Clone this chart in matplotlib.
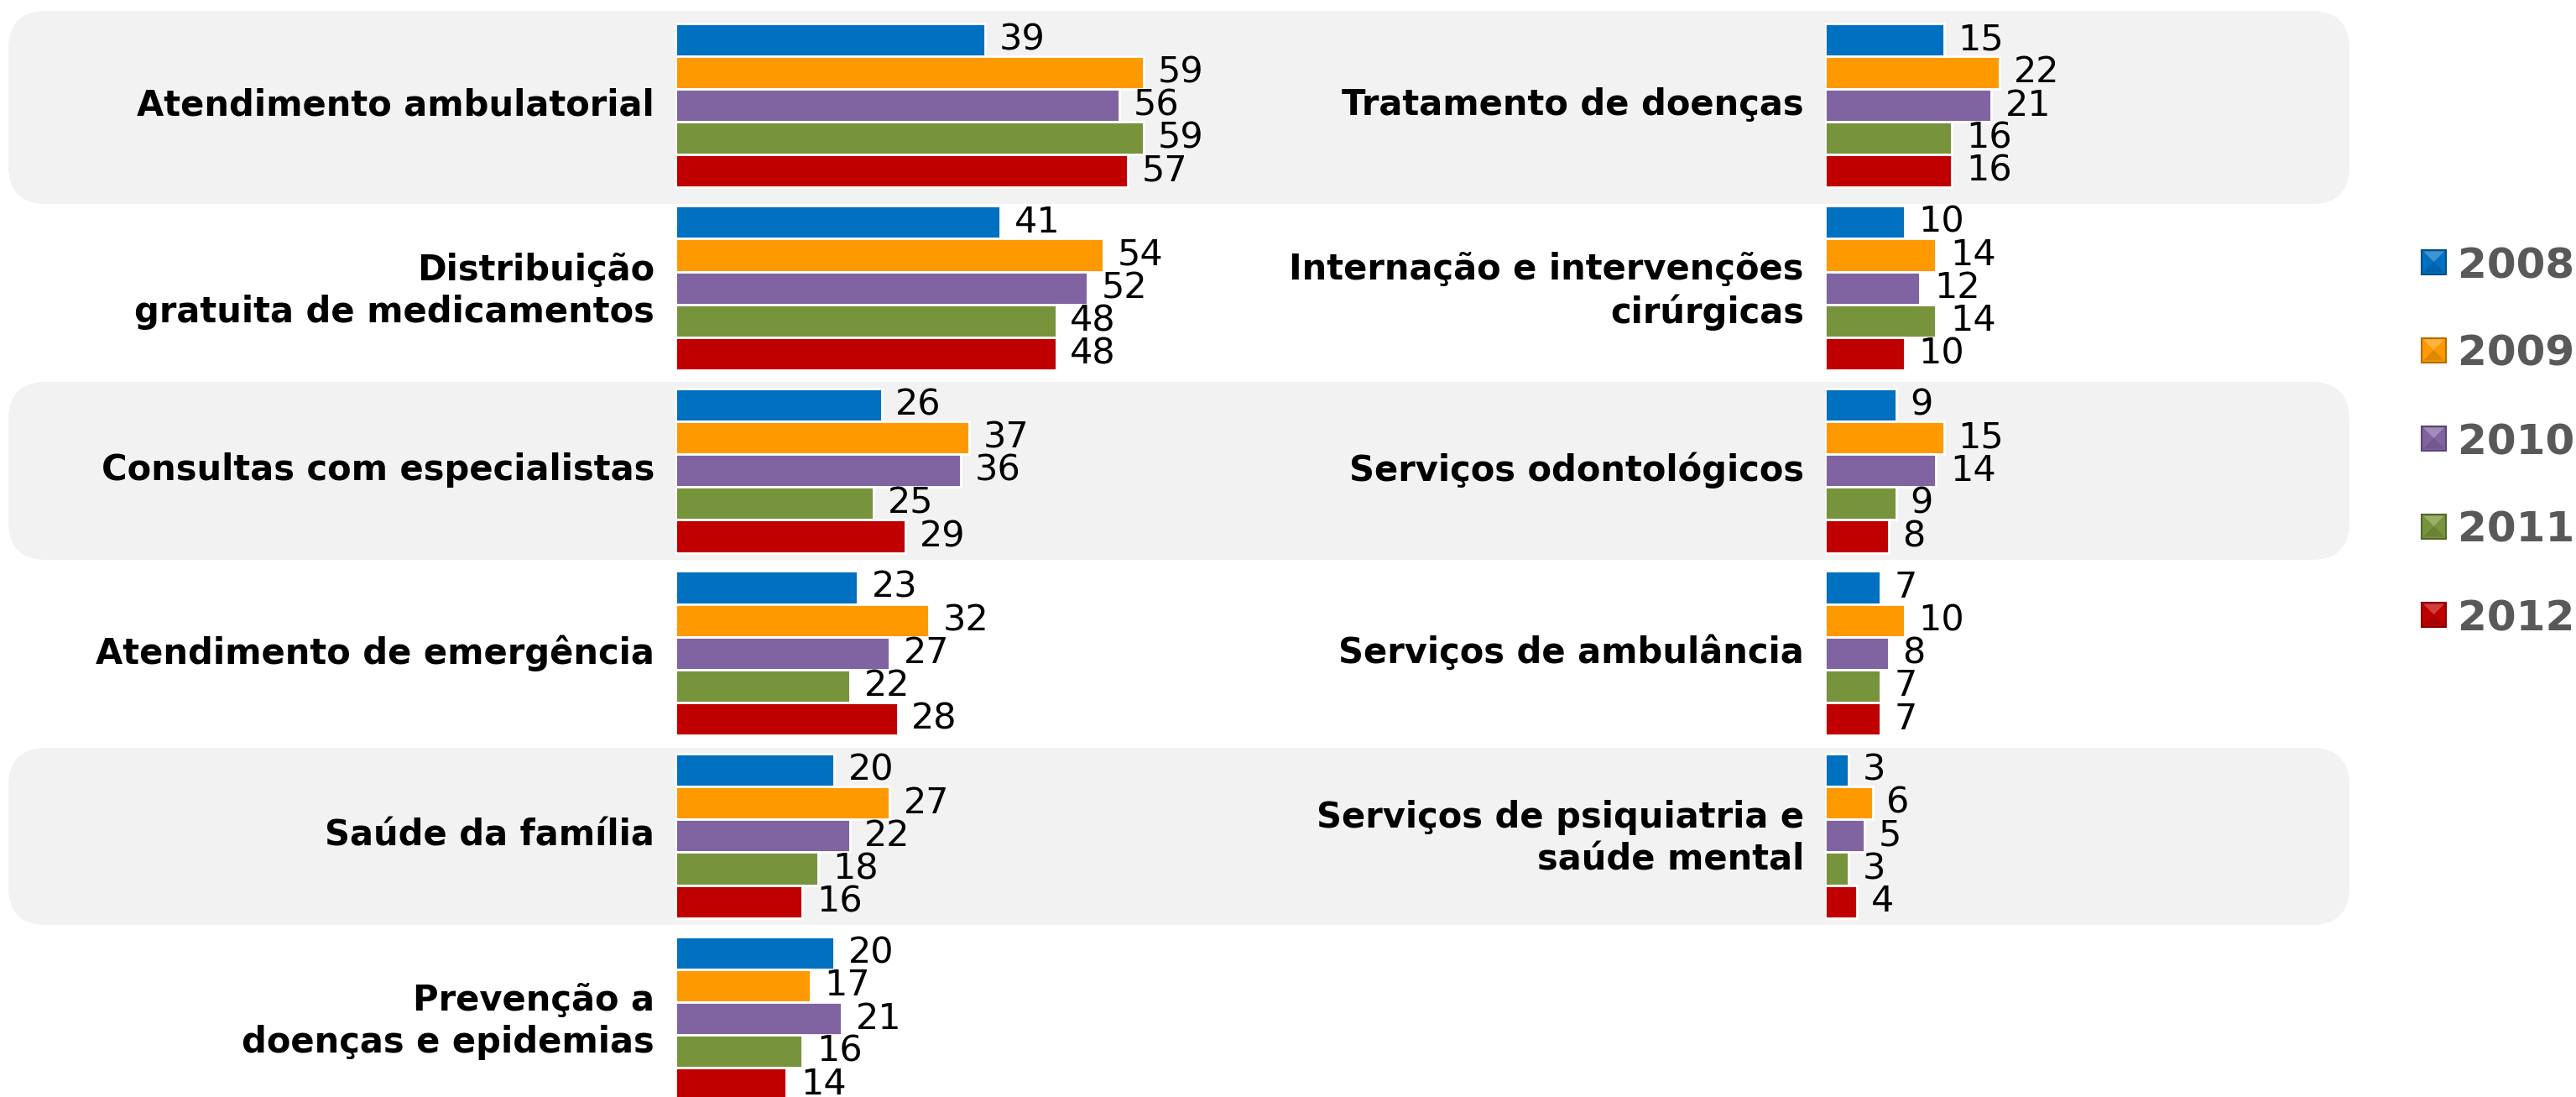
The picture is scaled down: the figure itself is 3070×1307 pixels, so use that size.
import matplotlib
matplotlib.use("Agg")
import matplotlib.pyplot as plt
from matplotlib.patches import FancyBboxPatch, Rectangle, Polygon
from matplotlib.transforms import ScaledTranslation
import matplotlib.colors as mcolors
import numpy as np

years = ["2008", "2009", "2010", "2011", "2012"]
colors = ["#0070C0", "#FF9900", "#8064A2", "#77933C", "#C00000"]

left_cats = ["Atendimento ambulatorial",
             "Distribuição\ngratuita de medicamentos",
             "Consultas com especialistas",
             "Atendimento de emergência",
             "Saúde da família",
             "Prevenção a\ndoenças e epidemias"]
left_2008 = [39, 41, 26, 23, 20, 20]
left_2009 = [59, 54, 37, 32, 27, 17]
left_2010 = [56, 52, 36, 27, 22, 21]
left_2011 = [59, 48, 25, 22, 18, 16]
left_2012 = [57, 48, 29, 28, 16, 14]

right_cats = ["Tratamento de doenças",
              "Internação e intervenções\ncirúrgicas",
              "Serviços odontológicos",
              "Serviços de ambulância",
              "Serviços de psiquiatria e\nsaúde mental"]
right_2008 = [15, 10, 9, 7, 3]
right_2009 = [22, 14, 15, 10, 6]
right_2010 = [21, 12, 14, 8, 5]
right_2011 = [16, 14, 9, 7, 3]
right_2012 = [16, 10, 8, 7, 4]

W, H = 3070, 1307
DPI = 100
fig = plt.figure(figsize=(W / DPI, H / DPI), dpi=DPI)
fig.patch.set_facecolor("white")

# background layer in pixel coordinates
bg = fig.add_axes([0, 0, 1, 1], zorder=0)
bg.set_xlim(0, W)
bg.set_ylim(H, 0)
bg.axis("off")
for (y0, y1) in [(13, 243), (455, 667), (891, 1102)]:
    bg.add_patch(FancyBboxPatch((10, y0), 2790, y1 - y0,
                                boxstyle="round,pad=0,rounding_size=45",
                                facecolor="#F2F2F2", edgecolor="none"))


def shade(c, f):
    rgb = np.array(mcolors.to_rgb(c))
    if f >= 0:
        return tuple(rgb + (1 - rgb) * f)
    return tuple(rgb * (1 + f))


# legend with bevelled square markers
for k, (yr, c) in enumerate(zip(years, colors)):
    yc = 312 + 105 * k
    x0, x1, y0, y1 = 2886, 2915, yc - 14.5, yc + 14.5
    xm, ym = (x0 + x1) / 2, yc
    bg.add_patch(Rectangle((x0, y0), x1 - x0, y1 - y0, facecolor=c,
                           edgecolor=shade(c, -0.3), linewidth=1.5))
    bg.add_patch(Polygon([(x0 + 2, y0 + 2), (x1 - 2, y0 + 2), (xm, ym)],
                         facecolor=shade(c, 0.25), edgecolor="none"))
    bg.add_patch(Polygon([(x0 + 2, y1 - 2), (x1 - 2, y1 - 2), (xm, ym)],
                         facecolor=shade(c, -0.12), edgecolor="none"))
    bg.text(2929, yc, yr, fontsize=36, fontweight="bold", color="#595959",
            ha="left", va="center_baseline", family="DejaVu Sans")

PXU = 9.45          # pixels per value unit
PITCH = 217.6       # pixels between group centres
C0 = 125.5          # centre of first group in pixels
ytop = -C0 / PITCH
ybot = (H - C0) / PITCH
bar_h = 0.180
offs = (np.arange(5) - 2) * bar_h


def panel(x0, x1, cats, series):
    ax = fig.add_axes([x0 / W, 0, (x1 - x0) / W, 1], zorder=1)
    ax.patch.set_alpha(0)
    ax.set_xlim(0, (x1 - x0) / PXU)
    ax.set_ylim(ybot, ytop)
    pos = np.arange(len(cats))
    for j, vals in enumerate(series):
        cont = ax.barh(pos + offs[j], vals, height=bar_h, color=colors[j],
                       edgecolor="white", linewidth=2)
        ax.bar_label(cont, labels=[str(v) for v in vals], padding=12,
                     fontsize=31, color="black", family="DejaVu Sans")
    ax.set_yticks(pos)
    ax.set_yticklabels(cats, fontsize=30, fontweight="bold",
                       linespacing=1.25, family="DejaVu Sans")
    ax.tick_params(axis="y", length=0, pad=18)
    up = ScaledTranslation(0, 5 / DPI, fig.dpi_scale_trans)
    for lab in ax.get_yticklabels():
        lab.set_transform(lab.get_transform() + up)
    ax.set_xticks([])
    for s in ax.spines.values():
        s.set_visible(False)
    return ax


panel(805, 1500, left_cats, [left_2008, left_2009, left_2010, left_2011, left_2012])
panel(2175, 2850, right_cats, [right_2008, right_2009, right_2010, right_2011, right_2012])

fig.savefig("out.png", dpi=DPI)
